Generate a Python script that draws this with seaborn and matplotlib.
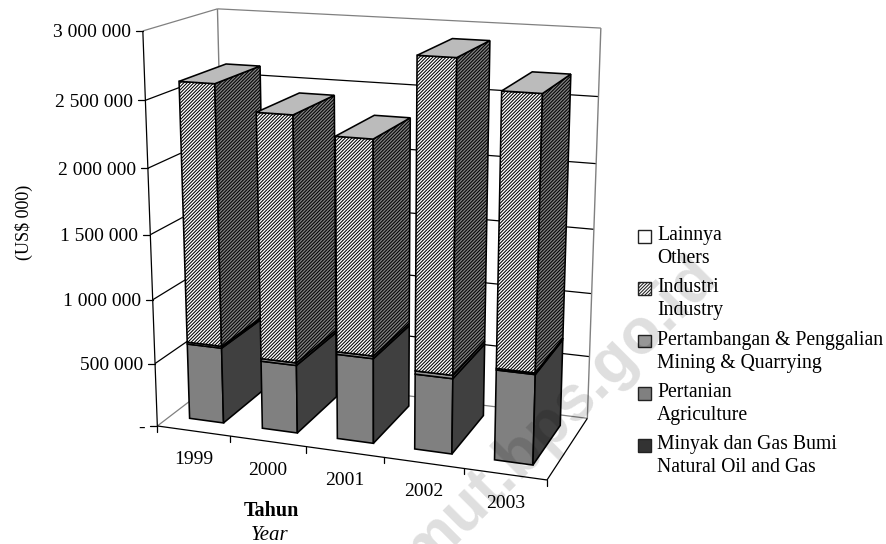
import numpy as np
import matplotlib
matplotlib.use("Agg")
import matplotlib.pyplot as plt
from matplotlib.patches import Polygon, Rectangle
from matplotlib.legend_handler import HandlerPatch
import seaborn as sns

# ---- data (US$ 000)
years = ["1999", "2000", "2001", "2002", "2003"]
oil_gas = [0, 0, 0, 0, 0]
agriculture = [600000, 535000, 660000, 580000, 685000]
mining = [15000, 20000, 20000, 25000, 12000]
industry = [1995000, 1867000, 1610000, 2295000, 1993000]
others = [0, 0, 0, 0, 0]
y_ticks = [0, 500000, 1000000, 1500000, 2000000, 2500000, 3000000]
y_labels = ["-", "500 000", "1 000 000", "1 500 000", "2 000 000", "2 500 000", "3 000 000"]
y_max = 3000000
legend_labels = ["Lainnya\nOthers", "Industri\nIndustry", "Pertambangan & Penggalian\nMining & Quarrying",
                 "Pertanian\nAgriculture", "Minyak dan Gas Bumi\nNatural Oil and Gas"]

sns.set_theme(style="white")
plt.rcParams["font.family"] = ["Liberation Serif", "DejaVu Sans"]
plt.rcParams["hatch.linewidth"] = 0.75
FS = 14

# ---- camera calibration: box corners (u, v, w) -> canvas pixels
corners = [((0, 0, 0), (157, 427)), ((0, 0, 1), (143.5, 30.5)), ((0, 1, 1), (216.7, 9.3)),
           ((0, 1, 0), (227, 372)), ((1, 1, 1), (601, 28)), ((1, 1, 0), (587.5, 419)),
           ((1, 0, 0), (546.7, 479.3))]
A, b = [], []
for (u, v, w), (x, y) in corners:
    A.append([u, v, w, 1, 0, 0, 0, 0, -x * u, -x * v, -x * w]); b.append(x)
    A.append([0, 0, 0, 0, u, v, w, 1, -y * u, -y * v, -y * w]); b.append(y)
sol = np.linalg.lstsq(np.array(A, float), np.array(b, float), rcond=None)[0]
P = np.append(sol, 1.0).reshape(3, 4)


def proj(u, v, w):
    p = P @ np.array([u, v, w, 1.0])
    return p[0] / p[2], p[1] / p[2]


fig = plt.figure(figsize=(8.86, 5.44), dpi=100)
ax = fig.add_axes([0, 0, 1, 1])
ax.set_xlim(0, 886)
ax.set_ylim(544, 0)
ax.axis("off")


def seg(a, b, **kw):
    p, q = proj(*a), proj(*b)
    ax.plot([p[0], q[0]], [p[1], q[1]], solid_capstyle="butt", **kw)


GREY, BLK = "#808080", "#000000"
for t in y_ticks:
    w = t / y_max
    c = GREY if t in (0, y_max) else BLK
    seg((0, 0, w), (0, 1, w), color=c, lw=0.9, zorder=1)
    seg((0, 1, w), (1, 1, w), color=c, lw=0.9, zorder=1)
seg((0, 1, 0), (0, 1, 1), color=GREY, lw=1.0, zorder=1)
seg((1, 1, 0), (1, 1, 1), color=GREY, lw=1.0, zorder=1)
seg((0, 0, 0), (0, 0, 1), color=BLK, lw=0.9, zorder=1)
seg((0, 0, 0), (1, 0, 0), color=BLK, lw=0.9, zorder=1)
seg((1, 0, 0), (1, 1, 0), color=BLK, lw=0.9, zorder=1)

for t, lab in zip(y_ticks, y_labels):
    x, y = proj(0, 0, t / y_max)
    ax.plot([x - 7, x], [y, y], color=BLK, lw=0.9)
    ax.text(x - 12, y, lab, ha="right", va="center_baseline", fontsize=FS, color="black")
n = len(years)
for k in range(n + 1):
    x, y = proj(k / n, 0, 0)
    ax.plot([x, x], [y, y + 6], color=BLK, lw=0.9)
for i, yr in enumerate(years):
    x, y = proj((i + 0.5) / n, 0, 0)
    ax.text(x, y + 27, yr, ha="center", va="center_baseline", fontsize=FS, color="black")

# ---- bars
GAP, DEPTH = 0.265, 0.18
fine = "/" * 10
series = [(oil_gas, "#333333", "#1a1a1a", None),
          (agriculture, "#808080", "#404040", None),
          (mining, "#969696", "#4b4b4b", None),
          (industry, "#ffffff", "#808080", fine),
          (others, "#ffffff", "#808080", None)]
TOP = "#bbbbbb"
edge = dict(edgecolor="black", linewidth=1.15, joinstyle="miter")
for i in range(n):
    u0, u1 = (i + GAP) / n, (i + 1 - GAP) / n
    v0, v1 = DEPTH, 1 - DEPTH + 0.01
    base = 0.0
    for vals, front, side, hatch in series:
        h = vals[i]
        if h <= 0:
            continue
        w0, w1 = base / y_max, (base + h) / y_max
        ax.add_patch(Polygon([proj(u0, v0, w0), proj(u1, v0, w0), proj(u1, v0, w1), proj(u0, v0, w1)],
                             facecolor=front, hatch=hatch, zorder=3 + i, **edge))
        ax.add_patch(Polygon([proj(u1, v0, w0), proj(u1, v1, w0), proj(u1, v1, w1), proj(u1, v0, w1)],
                             facecolor=side, hatch=hatch, zorder=3 + i, **edge))
        base += h
    w = base / y_max
    ax.add_patch(Polygon([proj(u0, v0, w), proj(u1, v0, w), proj(u1, v1, w), proj(u0, v1, w)],
                         facecolor=TOP, zorder=3 + i, **edge))

# ---- axis titles
ax.text(24, 222, "(US$ 000)", rotation=90, ha="center", va="center", fontsize=13, color="black")
ax.text(271, 511.5, "Tahun", ha="center", va="center", fontsize=14.5, fontweight="bold", color="black")
ax.text(270, 535, "Year", ha="center", va="center", fontsize=15, fontstyle="italic", color="black")


# ---- legend (swatch level with the first line of each label)
class TopSwatch(HandlerPatch):
    def create_artists(self, legend, orig, xd, yd, width, height, fontsize, trans):
        r = Rectangle((-xd, -yd + 8.2), 9.2, 9.2, transform=trans, facecolor=orig.get_facecolor(),
                      hatch=orig.get_hatch(), edgecolor="#222222", linewidth=1.0)
        return [r]


swatch = [("#ffffff", None), ("#ffffff", fine), ("#969696", None), ("#808080", None), ("#333333", None)]
handles = [Rectangle((0, 0), 1, 1, facecolor=f, hatch=h) for f, h in swatch]
leg = ax.legend(handles, legend_labels, loc="upper left", bbox_to_anchor=(638.5, 226),
                bbox_transform=ax.transData, frameon=False, fontsize=14.2, borderpad=0, borderaxespad=0,
                handlelength=0.65, handleheight=0.7, handletextpad=0.3, labelspacing=0.53,
                handler_map={Rectangle: TopSwatch()})
for t in leg.get_texts():
    t.set_linespacing(1.28)
    t.set_color("black")

# ---- watermark
ax.text(560, 414, "mut.bps.go.id", rotation=45, rotation_mode="anchor", ha="center", va="center",
        fontsize=46, fontweight="bold", family="Liberation Sans", color="black", alpha=0.13, zorder=20)

fig.savefig("out.png", dpi=100)
